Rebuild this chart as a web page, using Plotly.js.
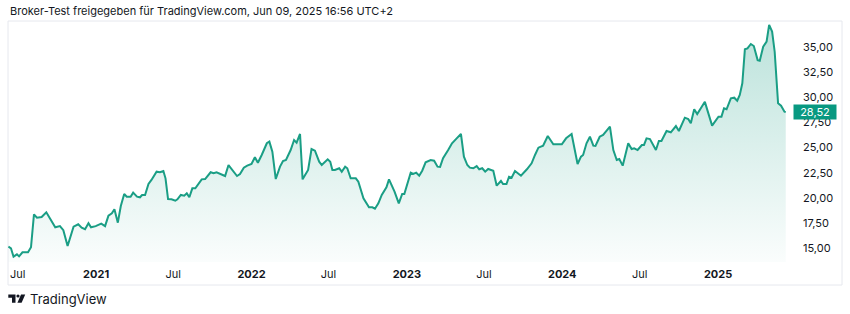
<!DOCTYPE html>
<html>
<head>
<meta charset="utf-8">
<script src="https://cdn.plot.ly/plotly-3.0.1.min.js"></script>
<style>
html,body{margin:0;padding:0;background:#fff;}
#chart{width:850px;height:314px;}
</style>
</head>
<body>
<div id="chart"></div>
<script>
// ---- data ----
const dates = [
"2020-06-09","2020-06-15","2020-06-21","2020-06-29","2020-07-04","2020-07-12","2020-07-25","2020-08-01","2020-08-08","2020-08-15",
"2020-08-26","2020-09-06","2020-09-27","2020-10-08","2020-10-16","2020-10-26","2020-11-09","2020-11-20","2020-11-28","2020-12-06",
"2020-12-14","2020-12-20","2020-12-31","2021-01-13","2021-01-22","2021-01-30","2021-02-07","2021-02-13","2021-02-21","2021-02-28",
"2021-03-08","2021-03-14","2021-03-23","2021-03-29","2021-04-07","2021-04-14","2021-04-19","2021-04-26","2021-05-04","2021-05-11",
"2021-05-23","2021-05-31","2021-06-08","2021-06-13","2021-06-19","2021-06-27","2021-07-06","2021-07-11","2021-07-19","2021-07-27",
"2021-08-02","2021-08-08","2021-08-15","2021-08-22","2021-09-06","2021-09-14","2021-09-27","2021-10-04","2021-10-11","2021-10-31",
"2021-11-08","2021-11-19","2021-11-28","2021-12-05","2021-12-14","2021-12-22","2022-01-01","2022-01-09","2022-01-16","2022-01-25",
"2022-02-06","2022-02-12","2022-02-19","2022-02-27","2022-03-09","2022-03-16","2022-03-23","2022-04-03","2022-04-11","2022-04-17",
"2022-04-25","2022-05-01","2022-05-14","2022-05-22","2022-05-30","2022-06-09","2022-06-15","2022-06-29","2022-07-05","2022-07-10",
"2022-07-16","2022-07-26","2022-08-01","2022-08-09","2022-08-14","2022-08-22","2022-09-03","2022-09-09","2022-09-21","2022-10-04",
"2022-10-12","2022-10-18","2022-10-26","2022-11-03","2022-11-14","2022-11-20","2022-12-03","2022-12-13","2022-12-21","2022-12-26",
"2023-01-03","2023-01-10","2023-01-16","2023-01-23","2023-01-30","2023-02-06","2023-02-14","2023-02-26","2023-03-06","2023-03-14",
"2023-03-20","2023-03-27","2023-04-08","2023-04-17","2023-04-28","2023-05-08","2023-05-15","2023-05-23","2023-05-29","2023-06-06",
"2023-06-14","2023-06-20","2023-06-27","2023-07-04","2023-07-11","2023-07-23","2023-07-31","2023-08-10","2023-08-15","2023-08-23",
"2023-08-29","2023-09-04","2023-09-12","2023-09-26","2023-10-10","2023-10-21","2023-10-29","2023-11-06","2023-11-17","2023-11-28",
"2023-12-11","2023-12-31","2024-01-10","2024-01-23","2024-02-06","2024-02-14","2024-02-19","2024-02-27","2024-03-06","2024-03-14",
"2024-03-19","2024-03-29","2024-04-06","2024-04-22","2024-04-30","2024-05-08","2024-05-14","2024-05-22","2024-06-04","2024-06-12",
"2024-06-18","2024-06-26","2024-07-06","2024-07-11","2024-07-17","2024-07-25","2024-08-08","2024-08-15","2024-08-21","2024-09-02",
"2024-09-12","2024-09-24","2024-10-01","2024-10-15","2024-10-23","2024-10-29","2024-11-06","2024-11-13","2024-12-01","2024-12-18",
"2025-01-02","2025-01-09","2025-01-15","2025-01-21","2025-01-31","2025-02-08","2025-02-15","2025-02-21","2025-02-27","2025-03-05",
"2025-03-11","2025-03-19","2025-03-26","2025-04-04","2025-04-09","2025-04-17","2025-04-25","2025-05-01","2025-05-08","2025-05-14",
"2025-05-22","2025-05-29","2025-06-06","2025-06-09"
];
const prices = [
15.16,15.00,14.17,14.40,14.20,14.60,14.60,15.10,18.37,18.04,
18.10,18.57,17.08,17.20,16.80,15.23,17.14,17.38,17.05,16.90,
17.48,17.08,17.20,17.44,17.20,18.24,18.47,18.87,17.54,19.20,
20.39,20.12,20.12,20.52,20.12,20.06,20.29,20.29,21.38,21.78,
22.60,22.54,22.67,21.94,19.89,19.86,19.72,19.86,20.29,20.22,
20.45,20.06,20.95,20.95,21.84,21.87,22.54,22.44,22.54,22.17,
23.26,22.70,22.17,22.37,23.00,23.20,23.36,24.03,23.49,24.26,
25.42,25.58,24.58,21.87,23.10,23.66,23.76,24.75,25.74,25.48,
26.34,21.84,22.77,24.85,24.68,23.59,23.26,23.83,23.59,22.77,
22.77,22.94,22.60,23.10,22.94,21.94,21.94,21.61,19.96,19.07,
19.07,18.93,19.46,20.29,21.05,21.84,20.62,19.46,20.39,20.39,
21.61,22.50,22.37,22.50,22.20,22.70,23.53,23.76,23.69,23.10,
23.07,23.93,24.75,25.42,25.91,26.34,24.09,23.26,23.00,22.94,
23.16,22.84,22.94,22.60,22.87,22.70,21.21,21.68,21.38,21.38,
22.10,22.00,22.67,22.20,22.84,23.43,24.26,24.98,25.18,26.14,
25.32,25.32,25.91,26.34,23.36,24.09,24.26,25.42,26.07,25.18,
25.15,26.07,26.24,27.06,24.75,23.76,23.86,23.20,25.42,24.85,
24.92,24.75,25.25,25.25,25.91,25.84,24.75,25.64,25.64,26.64,
26.51,27.13,26.64,27.96,27.83,27.40,28.79,28.32,29.53,27.17,
28.06,28.06,28.89,28.79,29.88,29.94,29.64,30.21,31.37,34.74,
34.84,35.27,35.07,33.67,33.60,35.00,35.50,37.16,36.50,34.50,
29.38,29.15,28.55,28.52
];
const lastPriceText = "28,52";
const xTickVals = ["2020-07-01","2021-01-01","2021-07-01","2022-01-01","2022-07-01","2023-01-01","2023-07-01","2024-01-01","2024-07-01","2025-01-01"];
const xTickText = ["Jul","<b>2021</b>","Jul","<b>2022</b>","Jul","<b>2023</b>","Jul","<b>2024</b>","Jul","<b>2025</b>"];
const yTickVals = [15,17.5,20,22.5,25,27.5,30,32.5,35];
const yTickText = ["15,00","17,50","20,00","22,50","25,00","27,50","30,00","32,50","35,00"];
const headerText = "Broker-Test freigegeben für TradingView.com, Jun 09, 2025 16:56 UTC+2";
const brandText = "TradingView";

// ---- layout helpers (pixel -> paper) ----
const W = 850, H = 314;
const M = {l:8, r:60, t:21, b:52};
const PW = W - M.l - M.r, PH = H - M.t - M.b;
const px = x => (x - M.l) / PW;
const py = y => (H - M.b - y) / PH;

const FONT = "Inter, 'Liberation Sans', Arial, sans-serif";
const GREEN = "#16a085";

const trace = {
  x: dates, y: prices, type: "scatter", mode: "lines",
  line: {color: "#1a9e85", width: 2},
  fill: "tozeroy",
  fillgradient: {
    type: "vertical",
    start: 13.6, stop: 37.5,
    colorscale: [[0, "rgba(26,158,133,0.02)"], [1, "rgba(26,158,133,0.30)"]]
  },
  hoverinfo: "skip"
};

const layout = {
  width: W, height: H,
  margin: M,
  paper_bgcolor: "#ffffff", plot_bgcolor: "#ffffff",
  showlegend: false,
  font: {family: FONT, color: "#131722"},
  xaxis: {
    type: "date", range: ["2020-06-08", "2025-06-19"],
    tickmode: "array", tickvals: xTickVals, ticktext: xTickText,
    showgrid: false, zeroline: false, showline: false, ticks: "",
    ticklabelstandoff: 4,
    tickfont: {family: FONT, size: 11, color: "#131722"}
  },
  yaxis: {
    side: "right", range: [13.64, 37.55],
    tickmode: "array", tickvals: yTickVals, ticktext: yTickText,
    showgrid: false, zeroline: false, showline: false, ticks: "",
    ticklabelstandoff: 12,
    tickfont: {family: FONT, size: 11, color: "#131722"}
  },
  shapes: [
    {type: "rect", xref: "paper", yref: "paper", x0: px(8), x1: px(842), y0: py(285), y1: py(21),
     line: {color: "#e6e8ee", width: 1}, fillcolor: "rgba(0,0,0,0)", layer: "below"},
    {type: "path", xref: "paper", yref: "paper",
     path: `M ${px(8.3)},${py(294.5)} L ${px(15.5)},${py(294.5)} L ${px(15.5)},${py(302.7)} L ${px(12)},${py(302.7)} L ${px(12)},${py(297.8)} L ${px(8.3)},${py(297.8)} Z`,
     fillcolor: "#131722", line: {width: 0}},
    {type: "circle", xref: "paper", yref: "paper", x0: px(16.4), x1: px(19.6), y0: py(297.6), y1: py(294.4),
     fillcolor: "#131722", line: {width: 0}},
    {type: "path", xref: "paper", yref: "paper",
     path: `M ${px(21)},${py(294.5)} L ${px(25.2)},${py(294.5)} L ${px(21.6)},${py(302.7)} L ${px(17.4)},${py(302.7)} Z`,
     fillcolor: "#131722", line: {width: 0}}
  ],
  annotations: [
    {text: headerText, xref: "paper", yref: "paper", x: px(8), y: py(11), xanchor: "left", yanchor: "middle",
     showarrow: false, font: {family: FONT, size: 11, color: "#131722"}},
    {text: brandText, xref: "paper", yref: "paper", x: px(27.5), y: py(298.5), xanchor: "left", yanchor: "middle",
     showarrow: false, font: {family: FONT, size: 13, color: "#131722"}},
    {text: lastPriceText, xref: "paper", yref: "y", x: 1, y: prices[prices.length - 1], xanchor: "left", yanchor: "middle",
     xshift: 3, showarrow: false, bgcolor: "#089981", borderpad: 1, width: 40, height: 12,
     font: {family: FONT, size: 11, color: "#ffffff"}}
  ]
};

Plotly.newPlot("chart", [trace], layout, {displayModeBar: false, staticPlot: true});
</script>
</body>
</html>
